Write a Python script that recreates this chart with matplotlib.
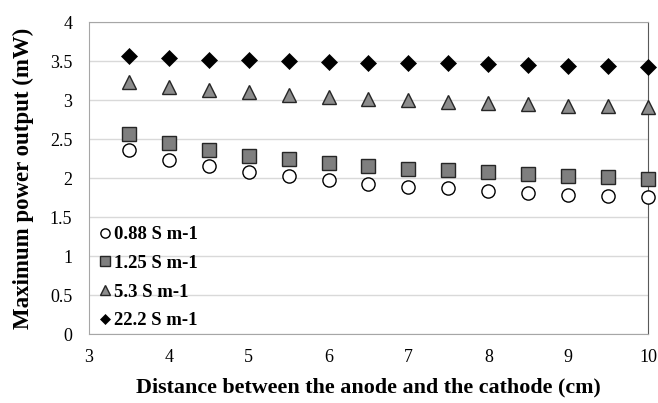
import matplotlib.pyplot as plt
import numpy as np

plt.rcParams['font.family'] = ['Liberation Serif', 'DejaVu Serif']

distance = [3.5, 4, 4.5, 5, 5.5, 6, 6.5, 7, 7.5, 8, 8.5, 9, 9.5, 10]
p_088 = [2.36, 2.23, 2.15, 2.08, 2.03, 1.97, 1.93, 1.89, 1.87, 1.84, 1.81, 1.79, 1.77, 1.76]
p_125 = [2.57, 2.45, 2.36, 2.29, 2.25, 2.20, 2.16, 2.12, 2.10, 2.08, 2.05, 2.03, 2.02, 1.99]
p_53 = [3.23, 3.17, 3.13, 3.10, 3.07, 3.04, 3.02, 3.00, 2.98, 2.96, 2.95, 2.93, 2.92, 2.91]
p_222 = [3.56, 3.54, 3.52, 3.51, 3.50, 3.49, 3.48, 3.47, 3.47, 3.46, 3.45, 3.44, 3.44, 3.43]
labels = ['0.88 S m-1', '1.25 S m-1', '5.3 S m-1', '22.2 S m-1']

fig = plt.figure(figsize=(6.58, 4.03), dpi=100)
ax = fig.add_axes([0.135, 0.171, 0.85, 0.774])

ax.plot(distance, p_088, 'o', ms=9.5, mfc='white', mec='black', mew=1, clip_on=False, zorder=3, label=labels[0])
ax.plot(distance, p_125, 's', ms=9.5, mfc='#7f7f7f', mec='#262626', mew=1, clip_on=False, zorder=3, label=labels[1])
ax.plot(distance, p_53, '^', ms=10, mfc='#8c8c8c', mec='#262626', mew=1, clip_on=False, zorder=3, label=labels[2])
ax.plot(distance, p_222, 'D', ms=8, mfc='black', mec='black', mew=0.5, clip_on=False, zorder=3, label=labels[3])

ax.set_xlim(3, 10)
ax.set_ylim(0, 4)
ax.set_xticks(np.arange(3, 11, 1))
ax.set_yticks(np.arange(0, 4.5, 0.5))
ax.set_yticklabels(['0', '0.5', '1', '1.5', '2', '2.5', '3', '3.5', '4'])
ax.grid(axis='y', color='#d9d9d9', lw=1)
ax.set_axisbelow(True)
for s in ['left', 'bottom', 'top']:
    ax.spines[s].set_color('#a6a6a6')
ax.spines['right'].set_color('#595959')
ax.tick_params(axis='both', length=0, labelsize=13, colors='black')
ax.tick_params(axis='y', pad=12)
ax.tick_params(axis='x', pad=11)

ax.set_xlabel('Distance between the anode and the cathode (cm)', fontsize=15.8, fontweight='bold', labelpad=8)
ax.set_ylabel('Maximum power output (mW)', fontsize=16.5, fontweight='bold', labelpad=11)

# legend sits inside, bottom left, no frame
leg = ax.legend(loc='lower left', frameon=False, prop={'weight': 'bold', 'size': 13.5},
                handletextpad=-0.1, labelspacing=0.62, handlelength=1.2, markerscale=0.7,
                borderaxespad=0.0, borderpad=0.25)

fig.savefig('out.png', dpi=100)
